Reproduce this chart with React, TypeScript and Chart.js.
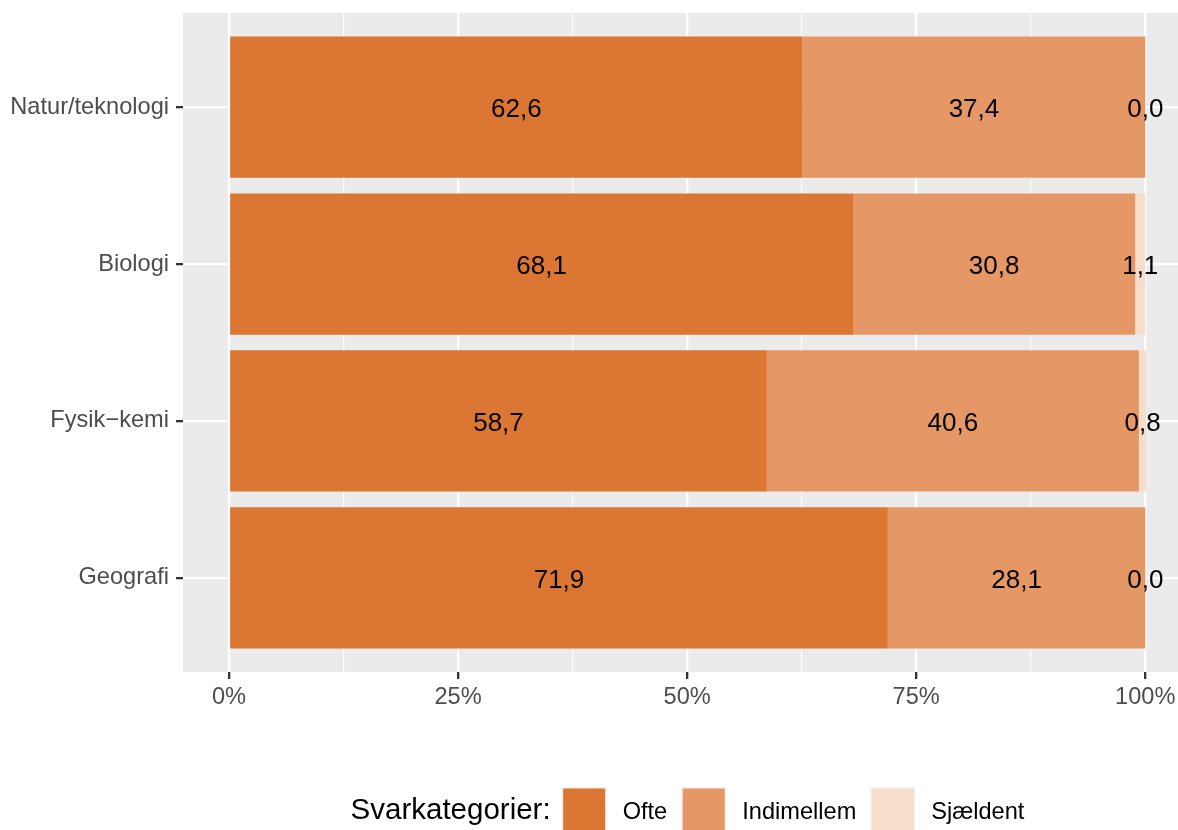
import { useEffect, useRef } from 'react';
import { Chart, registerables } from 'chart.js';

Chart.register(...registerables);

const categories = ['Natur/teknologi', 'Biologi', 'Fysik−kemi', 'Geografi'];
const seriesNames = ['Ofte', 'Indimellem', 'Sjældent'];
const ofte = [62.6, 68.1, 58.7, 71.9];
const indimellem = [37.4, 30.8, 40.6, 28.1];
const sjaeldent = [0.0, 1.1, 0.8, 0.0];
const seriesColors = ['#DC7633', '#E59866', '#F6DDCC'];
const xTickValues = [0, 12.5, 25, 37.5, 50, 62.5, 75, 87.5, 100];
const legendTitle = 'Svarkategorier:';

const FONT = '"Liberation Sans", Arial, Helvetica, sans-serif';
const isMajor = (v: number) => v % 25 === 0;
const fmt = (v: number) => v.toFixed(1).replace('.', ',');

const panelBg = {
  id: 'panelBg',
  beforeDraw(chart: any) {
    const { ctx, chartArea } = chart;
    ctx.save();
    ctx.fillStyle = '#FFFFFF';
    ctx.fillRect(0, 0, chart.width, chart.height);
    ctx.fillStyle = '#EBEBEB';
    ctx.fillRect(chartArea.left, chartArea.top, chartArea.right - chartArea.left, chartArea.bottom - chartArea.top);
    ctx.restore();
  },
};

const barLabels = {
  id: 'barLabels',
  afterDatasetsDraw(chart: any) {
    const { ctx } = chart;
    const size = 26;
    ctx.save();
    ctx.font = `${size}px ${FONT}`;
    ctx.fillStyle = '#000000';
    ctx.textAlign = 'center';
    ctx.textBaseline = 'alphabetic';
    chart.data.datasets.forEach((ds: any, di: number) => {
      const meta = chart.getDatasetMeta(di);
      meta.data.forEach((bar: any, i: number) => {
        const p = bar.getProps(['x', 'base', 'y'], true);
        const cx = (p.x + p.base) / 2;
        ctx.fillText(fmt(ds.data[i].x), cx, p.y + 0.358 * size + 0.8);
      });
    });
    ctx.restore();
  },
};

const bottomLegend = {
  id: 'bottomLegend',
  afterDraw(chart: any) {
    const { ctx } = chart;
    const titleSize = 29.5;
    const labelSize = 23.6;
    const box = 45;
    const gapTitle = 11;
    const gapBoxLabel = 16;
    const gapItems = 14;
    ctx.save();
    ctx.font = `${titleSize}px ${FONT}`;
    const titleW = ctx.measureText(legendTitle).width;
    ctx.font = `${labelSize}px ${FONT}`;
    const labelWs = seriesNames.map((n) => ctx.measureText(n).width);
    const total =
      titleW + gapTitle + labelWs.reduce((a, w) => a + box + gapBoxLabel + w, 0) + gapItems * (seriesNames.length - 1);
    const center = (chart.chartArea.left + chart.chartArea.right) / 2 + 7;
    let x = center - total / 2;
    const boxTop = 787;
    const baseline = 819;
    ctx.fillStyle = '#000000';
    ctx.textAlign = 'left';
    ctx.textBaseline = 'alphabetic';
    ctx.font = `${titleSize}px ${FONT}`;
    ctx.fillText(legendTitle, x, baseline);
    x += titleW + gapTitle;
    ctx.font = `${labelSize}px ${FONT}`;
    seriesNames.forEach((name, i) => {
      ctx.fillStyle = '#F2F2F2';
      ctx.fillRect(x, boxTop, box, box);
      ctx.fillStyle = seriesColors[i];
      ctx.fillRect(x + 1.5, boxTop + 1.5, box - 3, box - 3);
      x += box + gapBoxLabel;
      ctx.fillStyle = '#000000';
      ctx.fillText(name, x, baseline);
      x += labelWs[i] + gapItems;
    });
    ctx.restore();
  },
};

export default function App() {
  const ref = useRef<HTMLCanvasElement | null>(null);

  useEffect(() => {
    document.body.style.margin = '0';
    const canvas = ref.current;
    if (!canvas) return;
    const series = [ofte, indimellem, sjaeldent];
    const chart = new Chart(canvas, {
      type: 'bar',
      data: {
        datasets: series.map((vals, si) => ({
          label: seriesNames[si],
          data: vals.map((v, i) => ({ x: v, y: i })),
          backgroundColor: seriesColors[si],
          borderWidth: 0,
          barPercentage: 0.9,
          categoryPercentage: 1,
        })),
      },
      options: {
        indexAxis: 'y',
        animation: false,
        responsive: false,
        devicePixelRatio: 1,
        layout: { padding: { top: 13, bottom: 108, left: 0, right: 0 } },
        plugins: { legend: { display: false }, tooltip: { enabled: false } },
        scales: {
          x: {
            type: 'linear',
            stacked: true,
            position: 'bottom',
            min: -5.02,
            max: 103.57,
            bounds: 'data',
            offset: false,
            afterBuildTicks: (s: any) => {
              s.ticks = xTickValues.map((v) => ({ value: v }));
            },
            afterFit: (s: any) => {
              s.height = 50;
              s.paddingLeft = 0;
              s.paddingRight = 0;
            },
            border: { display: false },
            grid: {
              offset: false,
              color: '#FFFFFF',
              lineWidth: (c: any) => (isMajor(c.tick.value) ? 2.3 : 1.1),
              tickColor: (c: any) => (isMajor(c.tick.value) ? '#333333' : 'rgba(0,0,0,0)'),
              tickLength: 7,
              tickWidth: 2.3,
            },
            ticks: {
              autoSkip: false,
              maxRotation: 0,
              padding: 4,
              color: '#4D4D4D',
              font: { family: FONT, size: 23.6 },
              callback: (v: any) => (isMajor(Number(v)) ? `${v}%` : ''),
            },
          },
          y: {
            type: 'linear',
            stacked: true,
            reverse: true,
            position: 'left',
            min: -0.6,
            max: 3.6,
            bounds: 'data',
            offset: false,
            afterBuildTicks: (s: any) => {
              s.ticks = categories.map((_, i) => ({ value: i }));
            },
            afterFit: (s: any) => {
              s.width = 183;
              s.paddingTop = 0;
              s.paddingBottom = 0;
            },
            border: { display: false },
            grid: {
              offset: false,
              color: '#FFFFFF',
              lineWidth: 2.3,
              tickColor: '#333333',
              tickLength: 7,
              tickWidth: 2.3,
            },
            ticks: {
              autoSkip: false,
              padding: 7,
              color: '#4D4D4D',
              font: { family: FONT, size: 23.6 },
              callback: (v: any) => categories[Number(v)] ?? '',
            },
          },
        },
      } as any,
      plugins: [panelBg, barLabels, bottomLegend],
    });
    return () => chart.destroy();
  }, []);

  return <canvas ref={ref} width={1178} height={830} style={{ display: 'block' }} />;
}
